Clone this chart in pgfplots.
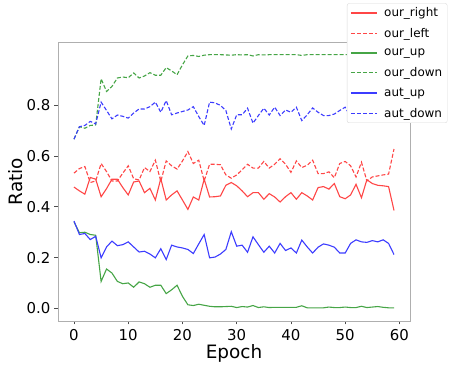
\documentclass[border=0pt]{standalone}
\usepackage{pgfplots}
\usepackage{pgfplotstable}
\pgfplotsset{compat=1.18}
\usepackage{fontspec}
\setmainfont{DejaVu Sans}
\definecolor{cR}{RGB}{255,70,70}
\definecolor{cG}{RGB}{70,165,70}
\definecolor{cB}{RGB}{60,60,255}
\definecolor{spine}{RGB}{175,175,175}

\pgfplotstableread{
ep r l u d au ad
0 0.478 0.533 0.341 0.667 0.344 0.667
1 0.463 0.551 0.298 0.716 0.291 0.716
2 0.450 0.559 0.300 0.710 0.295 0.721
3 0.516 0.496 0.291 0.721 0.271 0.737
4 0.509 0.502 0.288 0.723 0.284 0.727
5 0.440 0.571 0.106 0.905 0.199 0.813
6 0.472 0.539 0.155 0.855 0.242 0.780
7 0.509 0.502 0.139 0.875 0.265 0.747
8 0.509 0.502 0.106 0.908 0.247 0.762
9 0.476 0.533 0.097 0.912 0.251 0.757
10 0.447 0.562 0.100 0.909 0.262 0.750
11 0.498 0.511 0.083 0.928 0.242 0.770
12 0.502 0.506 0.104 0.908 0.222 0.786
13 0.456 0.555 0.097 0.916 0.225 0.786
14 0.473 0.539 0.083 0.929 0.214 0.795
15 0.427 0.584 0.091 0.919 0.199 0.813
16 0.512 0.500 0.091 0.919 0.235 0.773
17 0.427 0.581 0.058 0.949 0.192 0.819
18 0.447 0.562 0.073 0.936 0.249 0.763
19 0.463 0.549 0.091 0.921 0.242 0.770
20 0.427 0.581 0.047 0.960 0.238 0.776
21 0.390 0.618 0.014 0.995 0.232 0.782
22 0.439 0.571 0.011 0.997 0.216 0.795
23 0.427 0.584 0.016 0.993 0.254 0.756
24 0.509 0.502 0.012 0.998 0.291 0.721
25 0.439 0.568 0.008 1.000 0.199 0.813
26 0.440 0.568 0.006 1.000 0.202 0.810
27 0.443 0.566 0.006 1.000 0.214 0.800
28 0.485 0.526 0.007 0.999 0.232 0.780
29 0.496 0.513 0.008 0.998 0.302 0.707
30 0.483 0.526 0.003 1.000 0.245 0.763
31 0.463 0.546 0.007 0.999 0.249 0.763
32 0.440 0.568 0.005 1.000 0.221 0.789
33 0.456 0.553 0.011 0.995 0.282 0.730
34 0.456 0.553 0.003 1.000 0.251 0.760
35 0.430 0.579 0.006 0.999 0.221 0.789
36 0.452 0.553 0.003 1.000 0.245 0.762
37 0.439 0.568 0.004 1.000 0.218 0.793
38 0.419 0.590 0.004 1.000 0.256 0.760
39 0.440 0.568 0.004 1.000 0.228 0.782
40 0.456 0.536 0.004 1.000 0.238 0.773
41 0.430 0.581 0.004 1.000 0.218 0.793
42 0.456 0.555 0.010 0.997 0.269 0.740
43 0.443 0.564 0.002 1.000 0.242 0.763
44 0.427 0.584 0.002 1.000 0.218 0.790
45 0.476 0.531 0.002 1.000 0.241 0.773
46 0.480 0.531 0.002 1.000 0.254 0.760
47 0.470 0.538 0.005 1.000 0.249 0.760
48 0.492 0.515 0.003 1.000 0.241 0.766
49 0.440 0.571 0.003 1.000 0.218 0.780
50 0.432 0.579 0.005 1.000 0.218 0.793
51 0.447 0.562 0.003 1.000 0.256 0.754
52 0.489 0.518 0.003 1.000 0.270 0.740
53 0.436 0.576 0.008 0.998 0.262 0.748
54 0.507 0.502 0.003 1.000 0.260 0.750
55 0.492 0.518 0.005 1.000 0.267 0.743
56 0.485 0.522 0.007 0.999 0.262 0.748
57 0.483 0.526 0.004 1.000 0.270 0.740
58 0.480 0.529 0.002 1.000 0.256 0.754
59 0.386 0.628 0.002 1.000 0.212 0.798
}\data

\begin{document}
\begin{tikzpicture}
\begin{axis}[
  name=ax,
  scale only axis,
  width=352bp, height=279bp,
  xmin=-2.95, xmax=61.95,
  ymin=-0.05, ymax=1.05,
  xtick={0,10,20,30,40,50,60},
  ytick={0,0.2,0.4,0.6,0.8},
  yticklabel style={/pgf/number format/fixed,/pgf/number format/fixed zerofill,/pgf/number format/precision=1},
  /pgf/number format/assume math mode=true,
  tick label style={font=\fontsize{15}{15}\selectfont},
  label style={font=\fontsize{18.5}{18.5}\selectfont},
  xlabel={Epoch}, ylabel={Ratio},
  xlabel style={at={(axis description cs:0.5,-0.134)}, anchor=base},
  ylabel style={at={(axis description cs:-0.121,0.5)}, anchor=center},
  axis line style={spine, line width=0.9bp},
  tick align=outside, xtick pos=bottom, ytick pos=left,
  major tick length=3.5bp,
  tick style={black!70, line width=0.8bp},
  xticklabel style={yshift=-1bp},
  yticklabel style={xshift=-0.5bp},
  legend cell align=left,
  legend style={at={(axis description cs:0.821,0.7097)}, anchor=south west,
    font=\fontsize{12}{12}\selectfont, draw=black!15, rounded corners=2bp,
    fill=white,
    inner xsep=3bp, inner ysep=2bp, row sep=6.2bp,
    /tikz/every odd column/.append style={column sep=4.5bp},
    /tikz/every even column/.append style={column sep=0bp}},
  legend image code/.code={\draw[#1, line width=1.5bp] (0bp,0bp) -- (26bp,0bp);},
  every axis plot/.append style={line width=1.1bp},
]
\addplot[color=cR, no marks] table[x=ep,y=r]{\data};
\addlegendentry{our\_right}
\addplot[color=cR, no marks, dash pattern=on 4bp off 2bp] table[x=ep,y=l]{\data};
\addlegendentry{our\_left}
\addplot[color=cG, no marks] table[x=ep,y=u]{\data};
\addlegendentry{our\_up}
\addplot[color=cG, no marks, dash pattern=on 4bp off 2bp] table[x=ep,y=d]{\data};
\addlegendentry{our\_down}
\addplot[color=cB, no marks] table[x=ep,y=au]{\data};
\addlegendentry{aut\_up}
\addplot[color=cB, no marks, dash pattern=on 4bp off 2bp] table[x=ep,y=ad]{\data};
\addlegendentry{aut\_down}
\end{axis}
\pgfresetboundingbox
\path[use as bounding box] ([xshift=-58bp,yshift=-45bp]ax.south west) rectangle ([xshift=41bp,yshift=42bp]ax.north east);
\end{tikzpicture}
\end{document}
